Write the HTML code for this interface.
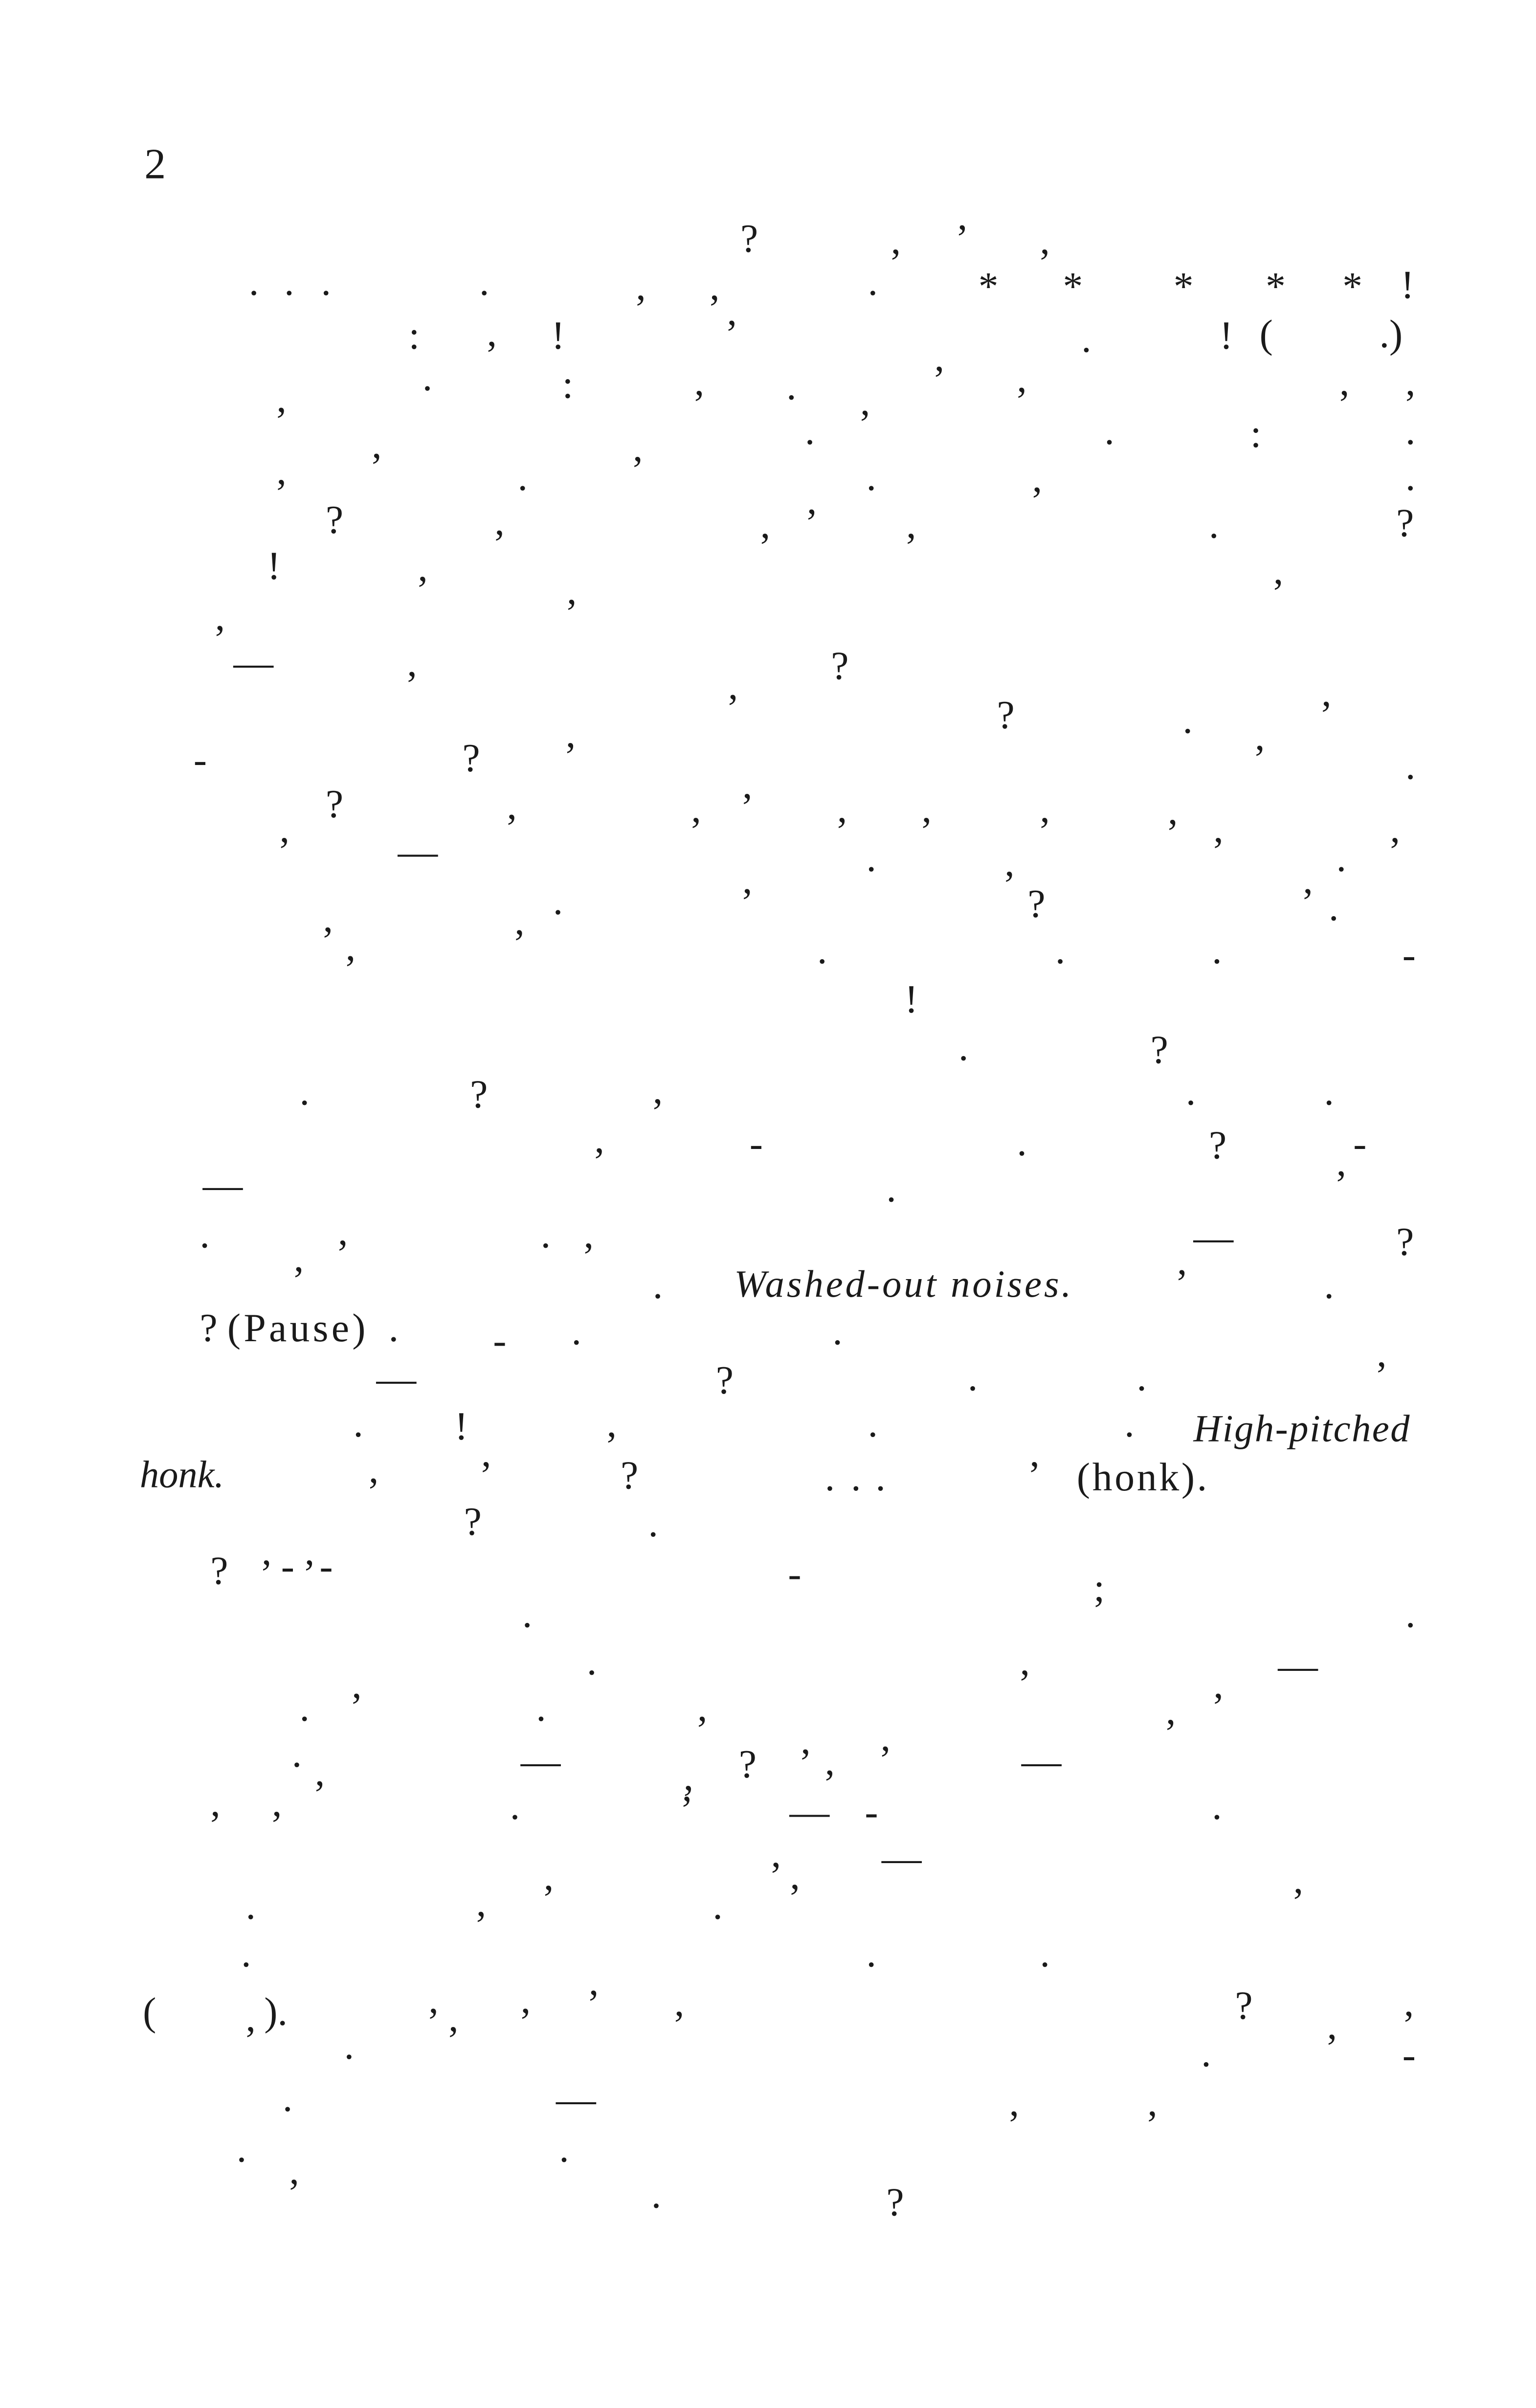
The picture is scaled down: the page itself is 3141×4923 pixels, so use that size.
<!DOCTYPE html>
<html><head><meta charset="utf-8"><style>
html,body{margin:0;padding:0;background:#fff;}
svg{display:block}
text{font-family:"Liberation Serif",serif;font-size:26px;fill:#1a1a1a}
.i{font-style:italic}
</style></head><body>
<svg width="3141" height="4923" viewBox="0 0 1000 1567.3" xmlns="http://www.w3.org/2000/svg">
<rect width="1000" height="1567.3" fill="#fff"/>
<text x="94" y="116" style="font-size:28px">2</text>
<g transform="translate(-3,2)">
<text x="165" y="190">.</text><text x="188" y="190">.</text><text x="212" y="190">.</text><text x="315" y="190">.</text><text x="568" y="190">.</text>
<text x="707" y="227">.</text><text x="278" y="252">.</text><text x="515" y="258">.</text>
<text x="527" y="287">.</text><text x="722" y="287">.</text><text x="918" y="287">.</text>
<text x="340" y="317">.</text><text x="567" y="317">.</text><text x="918" y="317">.</text>
<text x="790" y="348">.</text><text x="773" y="475">.</text><text x="918" y="505">.</text>
<text x="567" y="565">.</text><text x="873" y="565">.</text><text x="868" y="597">.</text><text x="363" y="593">.</text>
<text x="535" y="625">.</text><text x="690" y="625">.</text><text x="792" y="625">.</text>
<text x="627" y="688">.</text><text x="198" y="717">.</text><text x="775" y="717">.</text><text x="865" y="717">.</text>
<text x="665" y="750">.</text><text x="580" y="780">.</text><text x="133" y="810">.</text><text x="355" y="810">.</text>
<text x="428" y="843">.</text><text x="865" y="843">.</text><text x="375" y="873">.</text><text x="545" y="873">.</text>
<text x="633" y="903">.</text><text x="743" y="903">.</text><text x="233" y="933">.</text><text x="568" y="933">.</text><text x="735" y="933">.</text>
<text x="540" y="968">.</text><text x="557" y="968">.</text><text x="573" y="968">.</text><text x="425" y="998">.</text>
<text x="343" y="1057">.</text><text x="918" y="1057">.</text><text x="385" y="1088">.</text>
<text x="198" y="1118">.</text><text x="352" y="1118">.</text><text x="193" y="1148">.</text>
<text x="335" y="1182">.</text><text x="792" y="1182">.</text>
<text x="163" y="1247">.</text><text x="467" y="1247">.</text>
<text x="160" y="1278">.</text><text x="567" y="1278">.</text><text x="680" y="1278">.</text>
<text x="227" y="1338">.</text><text x="785" y="1343">.</text><text x="187" y="1372">.</text>
<text x="157" y="1405">.</text><text x="367" y="1405">.</text><text x="427" y="1435">.</text>
</g>
<g transform="translate(-3,-3)">
<text x="583" y="168">,</text><text x="680" y="168">,</text><text x="417" y="198">,</text><text x="465" y="198">,</text>
<text x="320" y="228">,</text><text x="455" y="260">,</text><text x="563" y="273">,</text><text x="665" y="258">,</text><text x="875" y="260">,</text><text x="918" y="260">,</text><text x="183" y="271">,</text>
<text x="245" y="301">,</text><text x="415" y="303">,</text><text x="183" y="318">,</text><text x="675" y="323">,</text>
<text x="325" y="351">,</text><text x="498" y="353">,</text><text x="593" y="353">,</text>
<text x="275" y="381">,</text><text x="372" y="396">,</text><text x="832" y="383">,</text><text x="143" y="413">,</text>
<text x="268" y="443">,</text><text x="477" y="458">,</text><text x="820" y="491">,</text>
<text x="333" y="536">,</text><text x="453" y="538">,</text><text x="548" y="538">,</text><text x="603" y="538">,</text><text x="680" y="538">,</text><text x="793" y="551">,</text><text x="908" y="551">,</text><text x="185" y="551">,</text>
<text x="657" y="573">,</text><text x="228" y="628">,</text><text x="338" y="611">,</text>
<text x="428" y="721">,</text><text x="390" y="753">,</text><text x="873" y="768">,</text>
<text x="223" y="813">,</text><text x="383" y="815">,</text><text x="398" y="938">,</text>
<text x="243" y="968">,</text><text x="667" y="1093">,</text><text x="232" y="1108">,</text><text x="457" y="1123">,</text><text x="793" y="1108">,</text><text x="762" y="1125">,</text>
<text x="208" y="1165">,</text><text x="448" y="1168">,</text><text x="540" y="1158">,</text>
<text x="140" y="1185">,</text><text x="180" y="1185">,</text><text x="447" y="1175">,</text>
<text x="505" y="1218">,</text><text x="357" y="1233">,</text><text x="845" y="1235">,</text><text x="313" y="1250">,</text>
<text x="282" y="1313">,</text><text x="295" y="1325">,</text><text x="342" y="1313">,</text><text x="442" y="1315">,</text><text x="917" y="1315">,</text>
<text x="163" y="1325">,</text><text x="867" y="1330">,</text><text x="660" y="1380">,</text><text x="750" y="1380">,</text>
</g>
<g transform="translate(-6,9)">
<text x="488" y="155">?</text><text x="918" y="185">!</text><text x="272" y="218">:</text><text x="365" y="218">!</text><text x="800" y="218">!</text>
<text x="372" y="250">:</text><text x="820" y="282">:</text><text x="218" y="338">?</text><text x="915" y="340">?</text><text x="180" y="368">!</text>
<text x="547" y="433">?</text><text x="655" y="465">?</text><text x="307" y="493">?</text><text x="218" y="523">?</text><text x="675" y="588">?</text>
<text x="595" y="650">!</text><text x="755" y="683">?</text><text x="312" y="712">?</text><text x="793" y="745">?</text><text x="915" y="808">?</text>
<text x="472" y="898">?</text><text x="302" y="928">!</text><text x="410" y="960">?</text><text x="308" y="990">?</text><text x="143" y="1022">?</text>
<text x="718" y="1033">;</text><text x="487" y="1148">?</text><text x="810" y="1305">?</text><text x="583" y="1433">?</text>
</g>
<g transform="translate(-6,12)">
<text x="643" y="183">*</text><text x="698" y="183">*</text><text x="770" y="183">*</text><text x="830" y="183">*</text><text x="880" y="183">*</text>
</g>
<g transform="translate(-3,16)">
<text x="625" y="148">’</text><text x="475" y="210">’</text><text x="610" y="240">’</text><text x="527" y="333">’</text><text x="862" y="458">’</text>
<text x="370" y="485">’</text><text x="485" y="518">’</text><text x="762" y="535">’</text><text x="485" y="580">’</text><text x="850" y="580">’</text><text x="212" y="605">’</text>
<text x="193" y="826">’</text><text x="768" y="828">’</text><text x="898" y="888">’</text><text x="315" y="953">’</text><text x="672" y="953">’</text>
<text x="172" y="1017">’</text><text x="200" y="1017">’</text><text x="523" y="1140">’</text><text x="575" y="1138">’</text><text x="516" y="1228">’</text>
<text x="385" y="1297">’</text><text x="190" y="1420">’</text>
</g>
<g transform="translate(-13,8)">
<text x="165" y="432">—</text><text x="272" y="555">—</text><text x="145" y="772">—</text><text x="790" y="806">—</text><text x="258" y="898">—</text>
<text x="845" y="1085">—</text><text x="352" y="1147">—</text><text x="678" y="1147">—</text><text x="527" y="1180">—</text><text x="587" y="1210">—</text><text x="375" y="1367">—</text>
</g>
<g transform="translate(-4,8)">
<text x="130" y="495">-</text><text x="917" y="622">-</text><text x="492" y="745">-</text><text x="885" y="745">-</text><text x="325" y="873">-</text>
<text x="187" y="1020">-</text><text x="212" y="1020">-</text><text x="517" y="1025" fill="#999">-</text><text x="567" y="1180">-</text><text x="917" y="1338">-</text>
</g>
<g transform="translate(0,8)">
<text x="820" y="218">(</text><text x="898" y="218">.)</text>
<text x="93" y="1310">(</text><text x="172" y="1310">).</text>
<text x="478" y="836" class="i" style="font-size:25px;letter-spacing:1.6px">Washed-out noises.</text>
<text x="130" y="865">?</text>
<text x="148" y="865" style="letter-spacing:2px">(Pause)</text>
<text x="253" y="865">.</text>
<text x="777" y="930" class="i" style="font-size:25px;letter-spacing:0.8px">High-pitched</text>
<text x="91" y="960" class="i" style="font-size:25px">honk.</text>
<text x="701" y="962" style="letter-spacing:1.5px">(honk).</text>
</g>
</svg>
</body></html>
